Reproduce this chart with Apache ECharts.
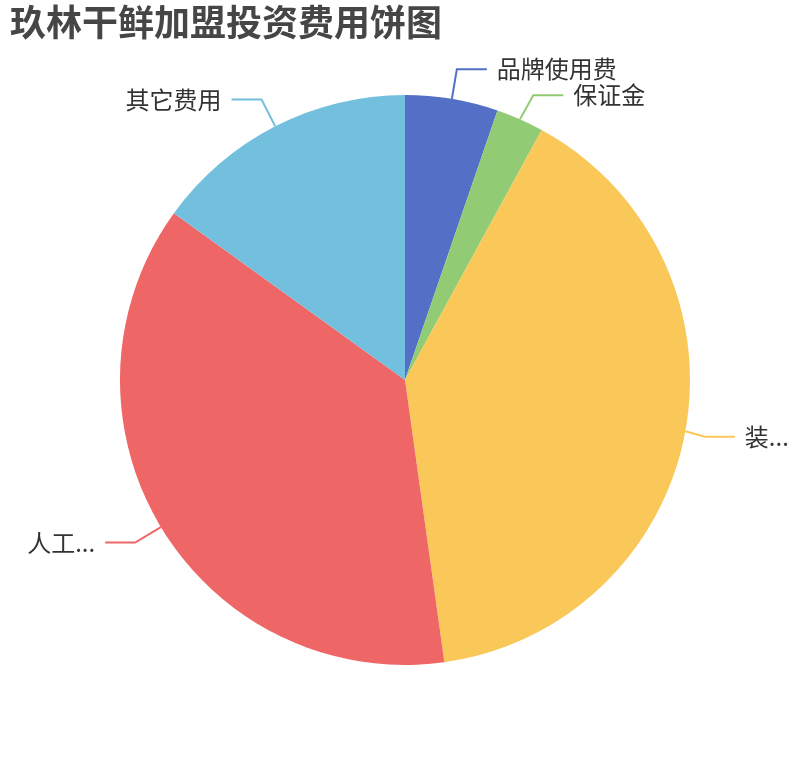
<!DOCTYPE html>
<html>
<head>
<meta charset="utf-8">
<script src="https://cdn.jsdelivr.net/npm/echarts@6/dist/echarts.min.js"></script>
<style>
html,body{margin:0;padding:0;background:#fff;}
#main{width:810px;height:760px;}
</style>
</head>
<body>
<div id="main"></div>
<script>
const titleText = '玖林干鲜加盟投资费用饼图';
const categories = ['品牌使用费', '保证金', '装修费用', '人工费用', '其它费用'];
const values = [5.26, 2.70, 39.83, 37.15, 15.05];
const colors = ['#5470c6', '#91cc75', '#fac858', '#ee6666', '#73c0de'];

const chart = echarts.init(document.getElementById('main'));
chart.setOption({
  color: colors,
  textStyle: { fontFamily: '"Noto Sans CJK SC", "Noto Sans", sans-serif' },
  title: {
    text: titleText,
    left: 0,
    top: 0,
    padding: [4, 10],
    textStyle: { fontSize: 36, fontWeight: 'bold', color: '#464646', fontFamily: '"Noto Sans CJK SC", sans-serif' }
  },
  series: [{
    type: 'pie',
    radius: [0, '75%'],
    center: ['50%', '50%'],
    data: categories.map((n, i) => ({ name: n, value: values[i] })),
    label: {
      fontSize: 24,
      color: '#333',
      bleedMargin: 20,
      distanceToLabelLine: 10,
      fontFamily: '"Noto Sans CJK SC", sans-serif'
    },
    labelLine: { length: 30, length2: 30, lineStyle: { width: 2 } },
    itemStyle: { borderColor: '#fff', borderWidth: 0 },
    emphasis: { disabled: true }
  }]
});
</script>
</body>
</html>
